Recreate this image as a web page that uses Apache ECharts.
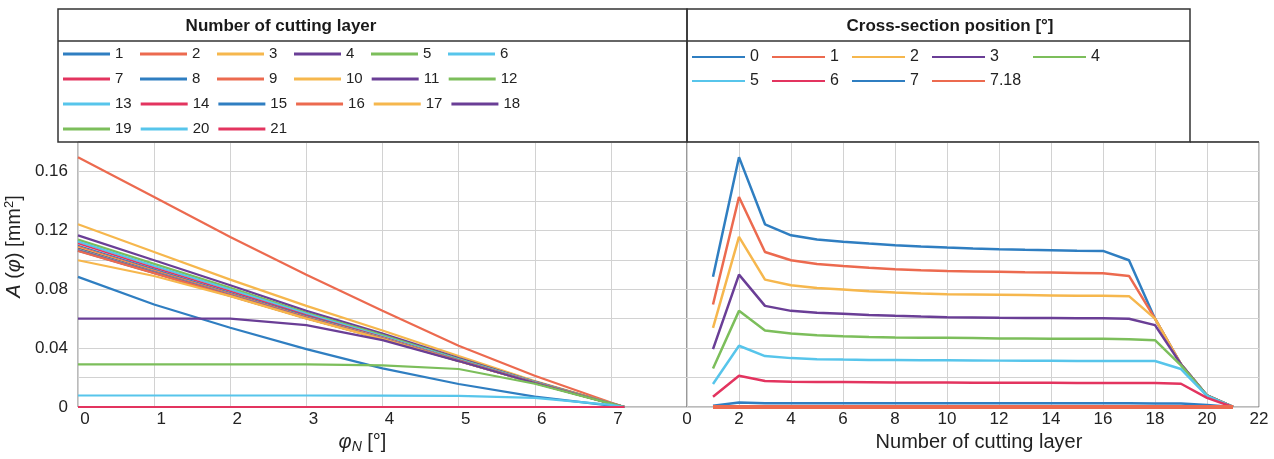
<!DOCTYPE html>
<html><head><meta charset="utf-8">
<script src="https://cdn.jsdelivr.net/npm/echarts@6/dist/echarts.min.js"></script>
<style>html,body{margin:0;padding:0;background:#fff}#c{width:1274px;height:459px}</style>
</head><body><div id="c"></div>
<script>
// Cross-section positions [deg] and cutting layer numbers
const positionNames = ['0','1','2','3','4','5','6','7','7.18'];
const positionValues = [0,1,2,3,4,5,6,7,7.18];
const layers = [1,2,3,4,5,6,7,8,9,10,11,12,13,14,15,16,17,18,19,20,21];

// A(phi) [mm^2] per cross-section position, one value per cutting layer 1..21
const pos0   = [0.0884,0.1697,0.1241,0.1166,0.1137,0.1123,0.1110,0.1098,0.1090,0.1083,0.1077,0.1072,0.1068,0.1065,0.1062,0.1060,0.0997,0.0600,0.0290,0.0078,0.0000];
const pos1   = [0.0696,0.1426,0.1053,0.0997,0.0972,0.0958,0.0946,0.0936,0.0929,0.0924,0.0921,0.0918,0.0915,0.0913,0.0911,0.0909,0.0890,0.0600,0.0290,0.0078,0.0000];
const pos2   = [0.0538,0.1155,0.0865,0.0827,0.0809,0.0798,0.0786,0.0777,0.0771,0.0766,0.0764,0.0762,0.0760,0.0758,0.0756,0.0755,0.0753,0.0600,0.0290,0.0078,0.0000];
const pos3   = [0.0393,0.0899,0.0687,0.0653,0.0640,0.0633,0.0625,0.0619,0.0614,0.0610,0.0608,0.0606,0.0605,0.0604,0.0603,0.0603,0.0600,0.0556,0.0290,0.0078,0.0000];
const pos4   = [0.0262,0.0653,0.0520,0.0499,0.0488,0.0481,0.0476,0.0472,0.0471,0.0470,0.0468,0.0466,0.0465,0.0464,0.0463,0.0463,0.0461,0.0454,0.0283,0.0077,0.0000];
const pos5   = [0.0156,0.0416,0.0346,0.0332,0.0325,0.0322,0.0320,0.0319,0.0318,0.0317,0.0316,0.0315,0.0314,0.0314,0.0313,0.0313,0.0312,0.0312,0.0258,0.0075,0.0000];
const pos6   = [0.0070,0.0212,0.0176,0.0172,0.0170,0.0169,0.0168,0.0167,0.0166,0.0166,0.0165,0.0165,0.0164,0.0164,0.0163,0.0163,0.0163,0.0163,0.0158,0.0062,0.0000];
const pos7   = [0.0009,0.0030,0.0026,0.0025,0.0025,0.0025,0.0025,0.0025,0.0025,0.0025,0.0025,0.0025,0.0025,0.0025,0.0025,0.0025,0.0025,0.0024,0.0023,0.0014,0.0000];
const pos718 = [0,0,0,0,0,0,0,0,0,0,0,0,0,0,0,0,0,0,0,0,0];
const positionSeries = [pos0,pos1,pos2,pos3,pos4,pos5,pos6,pos7,pos718];

// tick labels
const leftXTickLabels = ['0','1','2','3','4','5','6','7',''];
const rightXTickLabels = ['0','2','4','6','8','10','12','14','16','18','20','22'];
const yTickLabels = ['0','0.04','0.08','0.12','0.16'];

const palette = ['#2F7EC1','#EC6A4F','#F6B74D','#6A3E96','#7CBE5B','#57C5EB','#E3345F'];
const FONT = "'Liberation Sans', Arial, Helvetica, sans-serif";

const chart = echarts.init(document.getElementById('c'), null, {renderer:'canvas'});

const series = [];
layers.forEach((l, j) => {
  const thin = (l >= 7 && l <= 12);
  series.push({
    name: 'L' + l, type: 'line', xAxisIndex: 0, yAxisIndex: 0,
    symbol: 'none', animation: false,
    lineStyle: {width: thin ? 1.5 : 2.2, color: palette[j % 7]},
    itemStyle: {color: palette[j % 7]},
    data: positionValues.map((x, k) => [x, positionSeries[k][j]])
  });
});
positionNames.forEach((p, k) => {
  series.push({
    name: 'P' + p, type: 'line', xAxisIndex: 1, yAxisIndex: 1,
    symbol: 'none', animation: false,
    lineStyle: {width: k === 8 ? 4 : 2.5, color: palette[k % 7]},
    itemStyle: {color: palette[k % 7]},
    data: layers.map((l, j) => [l, positionSeries[k][j]])
  });
});

const yFmt = v => { const s = (Math.round(v*100)/100).toString(); return yTickLabels.indexOf(s) >= 0 ? s : ''; };
const gridLine = {show: true, lineStyle: {color: '#d2d2d2', width: 1}};
const labelStyle = {color: '#222', fontSize: 17, fontFamily: FONT};

const option = {
  animation: false,
  backgroundColor: '#fff',
  textStyle: {fontFamily: FONT},
  grid: [
    {left: 78, top: 142, width: 609, height: 265, show: true, borderColor: '#777', borderWidth: 1, containLabel: false, outerBoundsMode: 'none'},
    {left: 687, top: 142, width: 572, height: 265, show: true, borderColor: '#777', borderWidth: 1, containLabel: false, outerBoundsMode: 'none'}
  ],
  xAxis: [
    {gridIndex: 0, type: 'value', min: 0, max: 8, interval: 1,
     axisLine: {show: false}, axisTick: {show: false}, splitLine: gridLine,
     axisLabel: Object.assign({}, labelStyle, {margin: 4, padding: [0,0,0,14], formatter: v => leftXTickLabels[Math.round(v)]}),
     name: '{it|φ}{sub|N}{n| [°]}', nameLocation: 'middle', nameGap: 24,
     nameTextStyle: {color: '#222', fontSize: 20, fontFamily: FONT, padding: [0,40,0,0],
       rich: {it: {fontSize: 20, fontStyle: 'italic', fontFamily: FONT, color: '#222'},
              sub: {fontSize: 14, fontStyle: 'italic', fontFamily: FONT, color: '#222', padding: [8,0,0,0]},
              n: {fontSize: 20, fontFamily: FONT, color: '#222'}}}},
    {gridIndex: 1, type: 'value', min: 0, max: 22, interval: 2,
     axisLine: {show: false}, axisTick: {show: false}, splitLine: gridLine,
     axisLabel: Object.assign({}, labelStyle, {margin: 4, formatter: v => rightXTickLabels[Math.round(v/2)]}),
     name: 'Number of cutting layer', nameLocation: 'middle', nameGap: 25,
     nameTextStyle: {color: '#222', fontSize: 20, fontFamily: FONT, padding: [0,0,0,12]}}
  ],
  yAxis: [
    {gridIndex: 0, type: 'value', min: 0, max: 0.18, interval: 0.02,
     axisLine: {show: false}, axisTick: {show: false}, splitLine: gridLine,
     axisLabel: Object.assign({}, labelStyle, {margin: 10, formatter: yFmt}),
     name: '{it|A} ({it|φ}) [mm{sup|2}]', nameLocation: 'middle', nameGap: 52,
     nameTextStyle: {color: '#222', fontSize: 20, fontFamily: FONT, padding: [0,0,0,56],
       rich: {it: {fontSize: 20, fontStyle: 'italic', fontFamily: FONT, color: '#222'},
              sup: {fontSize: 13, fontFamily: FONT, color: '#222', padding: [0,0,10,0]}}}},
    {gridIndex: 1, type: 'value', min: 0, max: 0.18, interval: 0.02,
     axisLine: {show: false}, axisTick: {show: false}, splitLine: gridLine,
     axisLabel: {show: false}}
  ],
  legend: [
    {left: 63, top: 46, width: 480, orient: 'horizontal', padding: 0, itemGap: 9,
     itemWidth: 47, itemHeight: 3, icon: 'rect', selectedMode: false,
     data: layers.map(l => 'L' + l),
     formatter: n => n.slice(1),
     textStyle: {color: '#222', fontSize: 15, fontFamily: FONT, width: 16, lineHeight: 16}},
    {left: 692, top: 49, width: 440, orient: 'horizontal', padding: 0, itemGap: 8,
     itemWidth: 53, itemHeight: 2, icon: 'rect', selectedMode: false,
     data: positionNames.map((p, k) => ({name: 'P' + p, textStyle: {width: (k === 3 || k === 8) ? 35 : 14}})),
     formatter: n => n.slice(1),
     textStyle: {color: '#222', fontSize: 16, fontFamily: FONT, width: 14, lineHeight: 15}}
  ],
  graphic: [
    {type: 'rect', shape: {x: 58, y: 9, width: 629, height: 133}, style: {fill: 'none', stroke: '#333', lineWidth: 1.5}, z: 100},
    {type: 'line', shape: {x1: 58, y1: 41, x2: 687, y2: 41}, style: {stroke: '#333', lineWidth: 1.5}, z: 100},
    {type: 'rect', shape: {x: 687, y: 9, width: 503, height: 133}, style: {fill: 'none', stroke: '#333', lineWidth: 1.5}, z: 100},
    {type: 'line', shape: {x1: 687, y1: 41, x2: 1190, y2: 41}, style: {stroke: '#333', lineWidth: 1.5}, z: 100},
    {type: 'line', shape: {x1: 1190, y1: 142, x2: 1259, y2: 142}, style: {stroke: '#333', lineWidth: 1.5}, z: 100},
    {type: 'text', x: 281, y: 26, z: 100, style: {text: 'Number of cutting layer', align: 'center', verticalAlign: 'middle', font: "bold 17px 'Liberation Sans', Arial, sans-serif", fill: '#1a1a1a'}},
    {type: 'text', x: 950, y: 26, z: 100, style: {text: 'Cross-section position [°]', align: 'center', verticalAlign: 'middle', font: "bold 17px 'Liberation Sans', Arial, sans-serif", fill: '#1a1a1a'}}
  ],
  series: series
};
chart.setOption(option);
</script></body></html>
